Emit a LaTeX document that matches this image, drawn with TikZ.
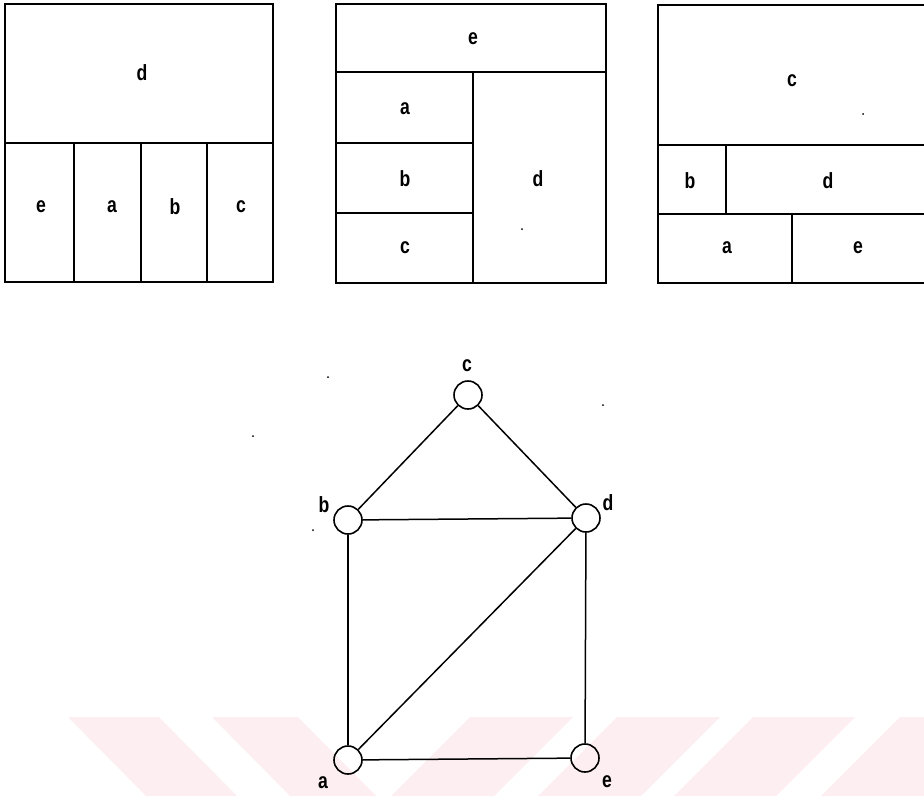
\documentclass[tikz,border=0pt]{standalone}
\usepackage{fontspec}
\setmainfont{Liberation Sans}
\usepackage{graphicx}
\definecolor{wm}{RGB}{253,238,241}
\newcommand\Lbl[1]{\scalebox{0.8}[1]{#1}}
\begin{document}
\begin{tikzpicture}[x=1pt,y=-1pt,
  box/.style={line width=1.8pt, line cap=rect},
  lbl/.style={font=\fontsize{22}{22}\selectfont\bfseries, inner sep=0pt},
  vtx/.style={circle, draw, line width=1.6pt, minimum size=28pt, inner sep=0pt},
  edge/.style={line width=1.5pt},
  speck/.style={circle, fill, inner sep=0pt, minimum size=2pt},
  wmark/.style={fill=wm, draw=none}]
\useasboundingbox (0,0) rectangle (924,796);
\fill[white] (0,0) rectangle (924,796);
% watermark stripes
\fill[wmark] (68,717) -- (159,717) -- (237,796) -- (146,796) -- cycle;
\fill[wmark] (212,717) -- (298,717) -- (376,796) -- (290,796) -- cycle;
\fill[wmark] (470,717) -- (573,717) -- (494,796) -- (391,796) -- cycle;
\fill[wmark] (617,717) -- (720,717) -- (641,796) -- (538,796) -- cycle;
\fill[wmark] (753,717) -- (855,717) -- (776,796) -- (674,796) -- cycle;
\fill[wmark] (900,717) -- (924,717) -- (924,796) -- (821,796) -- cycle;

% panel 1
\draw[box] (5,4) rectangle (273,282);
\draw[box] (5,143) -- (273,143);
\draw[box] (74,143) -- (74,282);
\draw[box] (141,143) -- (141,282);
\draw[box] (207,143) -- (207,282);
\node[lbl] (p1d) at (142,73) {\Lbl{d}};
\node[lbl] (p1e) at (41,207) {\Lbl{e}};
\node[lbl] (p1a) at (112,207) {\Lbl{a}};
\node[lbl] (p1b) at (175,207) {\Lbl{b}};
\node[lbl] (p1c) at (241,207) {\Lbl{c}};

% panel 2
\draw[box] (336,4) rectangle (606,283);
\draw[box] (336,72) -- (606,72);
\draw[box] (473,72) -- (473,283);
\draw[box] (336,143) -- (473,143);
\draw[box] (336,213) -- (473,213);
\node[lbl] (p2e) at (473,39) {\Lbl{e}};
\node[lbl] (p2a) at (405,109) {\Lbl{a}};
\node[lbl] (p2b) at (405,179) {\Lbl{b}};
\node[lbl] (p2c) at (405,248) {\Lbl{c}};
\node[lbl] (p2d) at (538,179) {\Lbl{d}};
\node[speck] (s1) at (522,229) {};

% panel 3 (right border outside picture)
\draw[box] (924,5) -- (658,5) -- (658,283) -- (924,283);
\draw[box] (658,145) -- (924,145);
\draw[box] (658,214) -- (924,214);
\draw[box] (726,145) -- (726,214);
\draw[box] (792,214) -- (792,283);
\node[lbl] (p3c) at (792,81) {\Lbl{c}};
\node[lbl] (p3b) at (690,181) {\Lbl{b}};
\node[lbl] (p3d) at (828,181) {\Lbl{d}};
\node[lbl] (p3a) at (727,248) {\Lbl{a}};
\node[lbl] (p3e) at (858,248) {\Lbl{e}};
\node[speck] (s2) at (863,114) {};

% graph
\node[vtx] (c) at (468,395) {};
\node[vtx] (b) at (348,520) {};
\node[vtx] (d) at (586,518) {};
\node[vtx] (a) at (348,760) {};
\node[vtx] (e) at (585,758) {};
\node[lbl] (lc) at (467,366) {\Lbl{c}};
\node[lbl] (lb) at (324,505) {\Lbl{b}};
\node[lbl] (ld) at (608,503) {\Lbl{d}};
\node[lbl] (la) at (323,783) {\Lbl{a}};
\node[lbl] (le) at (607,782) {\Lbl{e}};
\draw[edge] (c) -- (b);
\draw[edge] (c) -- (d);
\draw[edge] (b) -- (d);
\draw[edge] (b) -- (a);
\draw[edge] (d) -- (a);
\draw[edge] (d) -- (e);
\draw[edge] (a) -- (e);
\node[speck] (s3) at (328,377) {};
\node[speck] (s4) at (603,405) {};
\node[speck] (s5) at (253,436) {};
\node[speck] (s6) at (313,530) {};
\end{tikzpicture}
\end{document}
